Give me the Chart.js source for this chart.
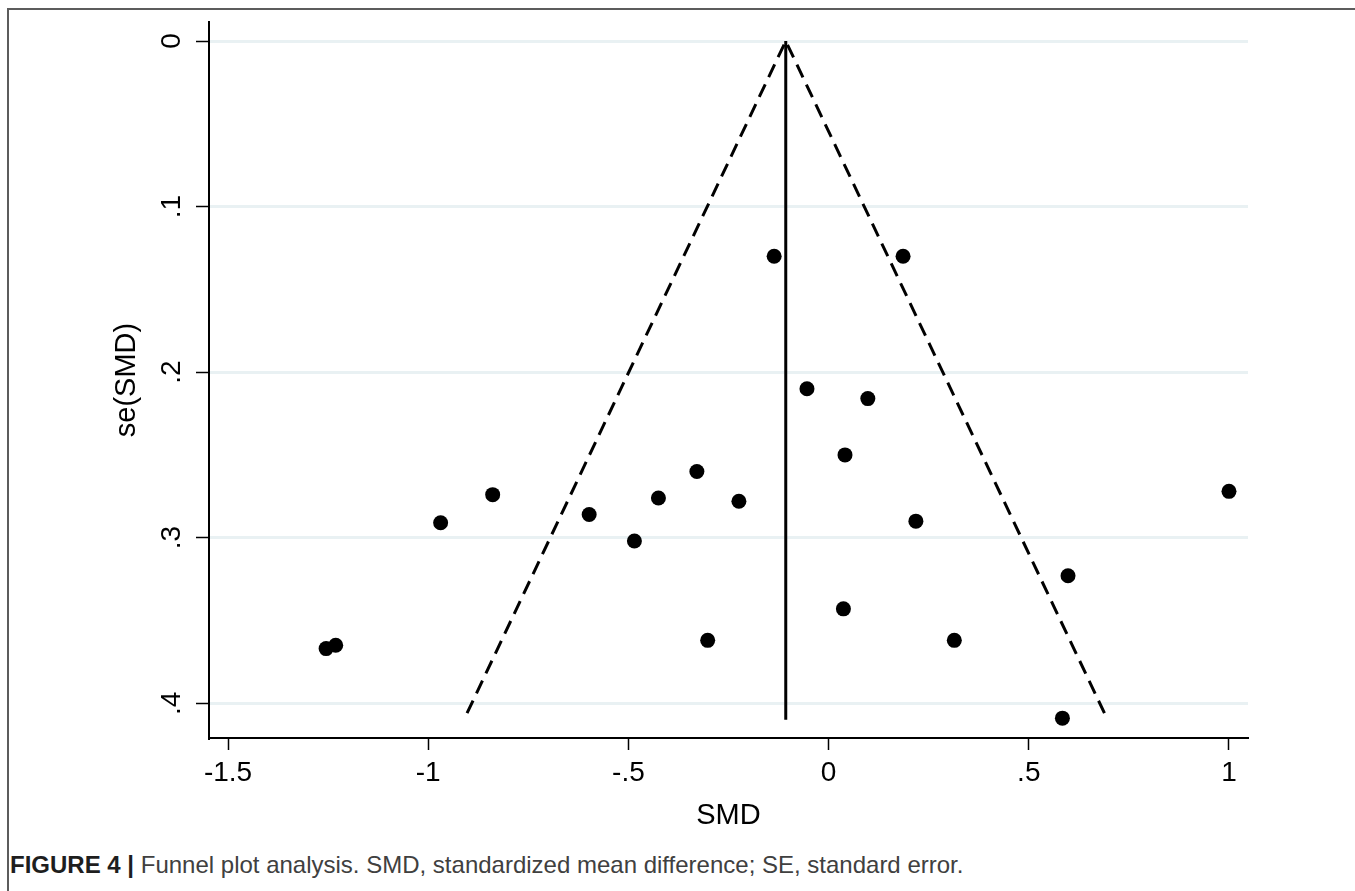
<!DOCTYPE html>
<html>
<head>
<meta charset="utf-8">
<script src="https://cdn.jsdelivr.net/npm/chart.js@4.4.0/dist/chart.umd.min.js"></script>
<style>
  html, body { margin: 0; padding: 0; background: #fff; }
  body { width: 1355px; height: 891px; position: relative; overflow: hidden; }
  #frame { position: absolute; left: 7px; top: 8px; right: 0; bottom: 0;
           border-left: 2px solid #5c5c5c; border-top: 2px solid #5c5c5c; }
  #wrap { position: absolute; left: 0; top: 0; width: 1355px; height: 850px; }
  #caption { position: absolute; left: 10px; top: 851px; white-space: nowrap;
             font-family: 'Liberation Sans Narrow', 'Liberation Sans', sans-serif;
             font-size: 24px; color: #404040; }
  #caption b { color: #1e1e1e; }
</style>
</head>
<body>
<div id="frame"></div>
<div id="wrap"><canvas id="funnel" width="1355" height="850"></canvas></div>
<div id="caption"><b>FIGURE 4 |</b> Funnel plot analysis. SMD, standardized mean difference; SE, standard error.</div>
<script>
// study estimates
var smd   = [-0.136, 0.186, -0.054, 0.098, 0.041, -0.329, -0.839, -0.425, -0.224, -0.969, -0.598,
             0.218, 1.000, -0.485, 0.598, 0.037, -0.302, 0.314, -1.255, -1.231, 0.584];
var seSmd = [0.130, 0.130, 0.210, 0.216, 0.250, 0.260, 0.274, 0.276, 0.278, 0.291, 0.286,
             0.290, 0.272, 0.302, 0.323, 0.343, 0.362, 0.362, 0.367, 0.365, 0.409];

// pooled estimate and 95% pseudo confidence limits
var pooledX = [-0.107, -0.107];
var pooledY = [0, 0.41];
var funnelX = [-0.903, -0.107, 0.689];
var funnelY = [0.406, 0, 0.406];

var xTicks = [-1.5, -1, -0.5, 0, 0.5, 1];
var xTickLabels = ['-1.5', '-1', '-.5', '0', '.5', '1'];
var yTicks = [0, 0.1, 0.2, 0.3, 0.4];
var yTickLabels = ['0', '.1', '.2', '.3', '.4'];

function toPoints(xs, ys) {
    return xs.map(function (x, i) { return {x: x, y: ys[i]}; });
}

var tickFont = {family: 'Liberation Sans', size: 28};
var titleFont = {family: 'Liberation Sans', size: 29};

var ctx = document.getElementById('funnel').getContext('2d');
var chart = new Chart(ctx, {
    type: 'scatter',
    data: {
        datasets: [{
            label: 'studies',
            data: toPoints(smd, seSmd),
            backgroundColor: '#000',
            borderWidth: 0,
            pointRadius: 7.5,
            pointHoverRadius: 7.5
        }, {
            label: 'pooled',
            data: toPoints(pooledX, pooledY),
            showLine: true,
            borderColor: '#000',
            borderWidth: 3,
            pointRadius: 0
        }, {
            label: 'limits',
            data: toPoints(funnelX, funnelY),
            showLine: true,
            borderColor: '#000',
            borderWidth: 3,
            borderDash: [14, 8],
            pointRadius: 0
        }]
    },
    options: {
        responsive: false,
        animation: false,
        events: [],
        layout: {padding: {top: 22, right: 107, bottom: 0, left: 0}},
        plugins: {
            legend: {display: false},
            tooltip: {enabled: false}
        },
        scales: {
            x: {
                type: 'linear',
                position: 'bottom',
                min: -1.5475,
                max: 1.0475,
                afterBuildTicks: function (s) { s.ticks = xTicks.map(function (v) { return {value: v}; }); },
                afterFit: function (s) { s.height = 112; s.paddingLeft = 0; s.paddingRight = 0; },
                ticks: {
                    callback: function (v, i) { return xTickLabels[i]; },
                    font: tickFont,
                    color: '#000',
                    padding: 6,
                    minRotation: 0,
                    maxRotation: 0,
                    autoSkip: false
                },
                grid: {drawOnChartArea: false, drawTicks: true, tickLength: 12, tickColor: '#000', tickWidth: 1.5},
                border: {display: true, color: '#000', width: 2},
                title: {display: true, text: 'SMD', font: titleFont, color: '#000', padding: {top: 0, bottom: 17}}
            },
            y: {
                type: 'linear',
                reverse: true,
                min: -0.0115,
                max: 0.421,
                afterBuildTicks: function (s) { s.ticks = yTicks.map(function (v) { return {value: v}; }); },
                afterFit: function (s) { s.width = 209; s.paddingTop = 0; s.paddingBottom = 0; },
                ticks: {
                    callback: function (v, i) { return yTickLabels[i]; },
                    font: tickFont,
                    color: '#000',
                    minRotation: 90,
                    maxRotation: 90,
                    crossAlign: 'center',
                    padding: 12,
                    autoSkip: false
                },
                grid: {color: '#e9f1f3', lineWidth: 3, drawTicks: true, tickLength: 13, tickColor: '#000', tickWidth: 1.5},
                border: {display: true, color: '#000', width: 2},
                title: {display: true, text: 'se(SMD)', font: titleFont, color: '#000', padding: {top: 110, bottom: 0}}
            }
        }
    }
});
</script>
</body>
</html>
